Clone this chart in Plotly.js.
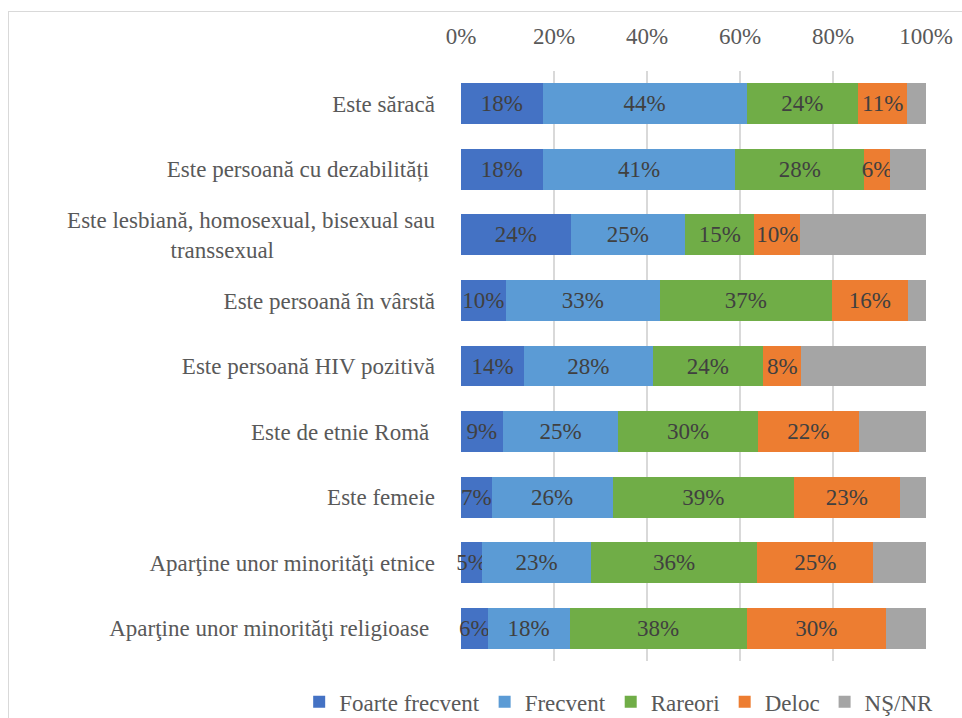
<!DOCTYPE html>
<html>
<head>
<meta charset="utf-8">
<script src="https://cdn.plot.ly/plotly-3.0.1.min.js"></script>
<style>
  html, body { margin: 0; padding: 0; background: #fff; }
  #chart { position: absolute; left: 0; top: 0; width: 962px; height: 718px; }
  #frame { position: absolute; left: 8px; top: 11px; width: 980px; height: 740px; border: 1px solid #d9d9d9; pointer-events: none; }
</style>
</head>
<body>
<div id="chart"></div>
<div id="frame"></div>
<script>
const categories = [
  "Este sărac\u0103",
  "Este persoan\u0103 cu dezabilit\u0103\u021bi\u00a0",
  "Este lesbian\u0103, homosexual, bisexual sau<br>transsexual" + "\u00a0".repeat(28),
  "Este persoan\u0103 \u00een v\u00e2rst\u0103",
  "Este persoan\u0103 HIV pozitiv\u0103",
  "Este de etnie Rom\u0103\u00a0",
  "Este femeie",
  "Apar\u0163ine unor minorit\u0103\u0163i etnice",
  "Apar\u0163ine unor minorit\u0103\u0163i religioase\u00a0"
];
const seriesNames = ["Foarte frecvent", "Frecvent", "Rareori", "Deloc", "N\u015e/NR"];
const foarteFrecvent = [17.6, 17.6, 23.6, 9.6, 13.6, 9.0, 6.6, 4.6, 5.7];
const frecvent       = [43.8, 41.4, 24.6, 33.2, 27.6, 24.8, 26.0, 23.3, 17.7];
const rareori        = [24.0, 27.7, 14.9, 36.9, 23.8, 30.1, 39.0, 35.8, 38.0];
const deloc          = [10.6, 5.6, 9.9, 16.4, 8.2, 21.6, 22.7, 25.0, 30.0];
const nsnr           = [4.0, 7.7, 27.0, 3.9, 26.8, 14.5, 5.7, 11.3, 8.6];
const tickVals = [0, 20, 40, 60, 80, 100];
const tickText = ["0%", "20%", "40%", "60%", "80%", "100%"];

const colors = ["#4472C4", "#5B9BD5", "#70AD47", "#ED7D31", "#A5A5A5"];
const allSeries = [foarteFrecvent, frecvent, rareori, deloc, nsnr];
const FONT = "Liberation Serif";
const FS = 23;

const traces = allSeries.map((vals, i) => ({
  type: "bar",
  orientation: "h",
  name: seriesNames[i],
  y: categories,
  x: vals,
  marker: { color: colors[i], line: { width: 0 } },
  texttemplate: i < 4 ? "%{x:.0f}%" : "",
  textposition: i < 4 ? "inside" : "none",
  insidetextanchor: "middle",
  textangle: 0,
  constraintext: "none",
  cliponaxis: false,
  textfont: { family: FONT, size: FS, color: "#404040" },
  hoverinfo: "name+x"
}));

const layout = {
  width: 962,
  height: 718,
  barmode: "stack",
  bargap: 0.375,
  paper_bgcolor: "#ffffff",
  plot_bgcolor: "#ffffff",
  margin: { l: 461, r: 36, t: 71, b: 57, autoexpand: false },
  font: { family: FONT, size: FS, color: "#595959" },
  showlegend: true,
  legend: {
    orientation: "h",
    x: -0.348, xanchor: "left",
    y: -0.069, yanchor: "middle",
    font: { family: FONT, size: FS, color: "#595959" },
    traceorder: "normal",
    itemwidth: 30
  },
  xaxis: {
    side: "top",
    range: [0, 100],
    tickvals: tickVals,
    ticktext: tickText,
    showgrid: true,
    gridcolor: "#d9d9d9",
    gridwidth: 1.5,
    zeroline: false,
    showline: false,
    ticks: "",
    ticklabelstandoff: 21,
    tickfont: { family: FONT, size: FS, color: "#595959" },
    fixedrange: true
  },
  yaxis: {
    type: "category",
    autorange: "reversed",
    showgrid: false,
    zeroline: false,
    showline: false,
    ticks: "",
    ticklabelstandoff: 25,
    tickfont: { family: FONT, size: FS, color: "#595959" },
    fixedrange: true
  }
};

Plotly.newPlot("chart", traces, layout, { displayModeBar: false, staticPlot: true });
</script>
</body>
</html>
